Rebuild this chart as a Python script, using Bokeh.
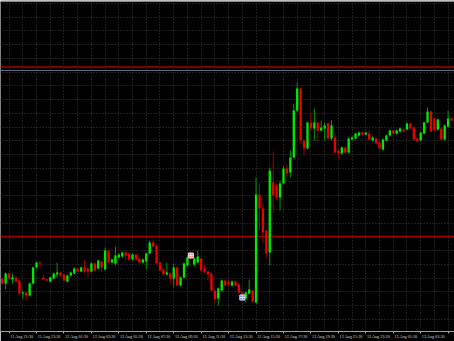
import numpy as np
from bokeh.plotting import figure
from bokeh.models import ColumnDataSource, FixedTicker, Range1d, Span, LinearAxis
from bokeh.embed import file_html
from bokeh.resources import INLINE

# M15 bars, first bar = 11 Aug 21:00
opens = [63, 58, 68, 62, 64, 61, 48, 49, 46, 58, 74, 79, 64, 62, 60, 63, 67, 69, 67, 60,
         66, 68, 73, 70, 74, 73, 70, 78, 73, 80, 72, 91, 79, 78, 84, 85, 89, 88, 82, 87,
         83, 79, 80, 88, 99, 96, 79, 72, 67, 68, 63, 74, 56, 64, 76, 86, 77, 79, 83, 73,
         70, 68, 51, 43, 51, 61, 60, 56, 60, 57, 49, 43, 48, 51, 39, 147, 133, 111, 89, 159,
         156, 144, 158, 173, 169, 184, 231, 253, 201, 193, 219, 213, 219, 211, 213, 218, 203, 204, 191, 188,
         194, 189, 202, 203, 206, 209, 207, 208, 201, 203, 199, 192, 201, 206, 211, 208, 210, 212, 212, 218,
         214, 203, 201, 208, 219, 230, 223, 212, 213, 202, 215, 223]
highs = [64, 69, 69, 68, 65, 62, 51, 50, 59, 75, 80, 80, 67, 63, 65, 69, 79, 70, 68, 67,
         70, 74, 74, 75, 81, 74, 79, 79, 82, 81, 94, 92, 83, 95, 88, 90, 91, 89, 88, 88,
         84, 83, 89, 101, 102, 97, 80, 73, 79, 69, 78, 75, 65, 79, 85, 87, 84, 91, 84, 77,
         71, 69, 52, 54, 62, 62, 61, 61, 61, 58, 50, 50, 62, 52, 164, 158, 138, 112, 174, 190,
         158, 161, 175, 177, 191, 238, 259, 254, 202, 220, 229, 233, 220, 221, 219, 219, 221, 208, 192, 195,
         195, 204, 206, 209, 210, 210, 210, 211, 205, 204, 200, 203, 207, 212, 212, 212, 214, 213, 219, 219,
         215, 204, 210, 220, 234, 231, 224, 223, 214, 217, 231, 224]
lows = [57, 52, 62, 58, 59, 47, 43, 41, 45, 57, 73, 74, 61, 60, 59, 62, 64, 65, 60, 59,
        65, 67, 69, 69, 68, 64, 69, 70, 72, 70, 71, 78, 78, 76, 83, 84, 81, 81, 81, 81,
        78, 78, 72, 87, 94, 77, 70, 66, 66, 58, 54, 55, 55, 63, 75, 82, 75, 78, 70, 68,
        61, 50, 38, 36, 50, 55, 56, 55, 55, 48, 43, 39, 47, 39, 38, 111, 98, 83, 76, 128,
        141, 131, 157, 164, 164, 183, 230, 199, 186, 192, 211, 201, 199, 210, 201, 202, 201, 188, 183, 187,
        188, 188, 201, 202, 205, 206, 206, 201, 200, 197, 192, 191, 200, 205, 207, 207, 209, 209, 211, 212,
        201, 199, 200, 207, 218, 209, 210, 211, 201, 201, 214, 220]
closes = [58, 68, 63, 64, 60, 48, 49, 46, 58, 74, 79, 78, 62, 61, 64, 68, 69, 66, 61, 66,
          69, 73, 70, 74, 70, 70, 78, 71, 81, 74, 91, 79, 82, 86, 87, 89, 86, 82, 87, 82,
          79, 82, 88, 99, 95, 78, 71, 67, 69, 63, 74, 56, 64, 78, 84, 83, 83, 85, 71, 69,
          67, 51, 42, 53, 61, 56, 57, 60, 56, 49, 44, 49, 52, 40, 147, 133, 109, 88, 171, 146,
          144, 158, 173, 168, 184, 231, 253, 201, 193, 219, 213, 219, 211, 214, 216, 203, 216, 189, 188, 194,
          189, 203, 204, 208, 209, 207, 209, 202, 204, 198, 193, 202, 206, 211, 208, 211, 213, 210, 218, 213,
          202, 200, 209, 219, 230, 210, 211, 222, 202, 216, 223, 221]

tick_bars = [2, 10, 18, 26, 34, 42, 50, 58, 66, 74, 82, 90, 98, 106, 114, 122, 130]
tick_labels = ["11 Aug 21:30", "11 Aug 23:30", "12 Aug 01:30", "12 Aug 03:30",
               "12 Aug 05:30", "12 Aug 07:30", "12 Aug 09:30", "12 Aug 11:30",
               "12 Aug 13:30", "12 Aug 15:30", "12 Aug 17:30", "12 Aug 19:30",
               "12 Aug 21:30", "12 Aug 23:30", "13 Aug 01:30", "13 Aug 03:30",
               "13 Aug 05:30"]

level_prices = [274.5, 105]   # red horizontal levels
ask_price = 271               # grey price line
mark_bars = [55, 70]
mark_prices = [86, 44]
mark_fill = ["#e88a8a", "#5d86c8"]
mark_line = ["#ffd6d6", "#d6e2ff"]

UP_BODY, DN_BODY = "#00ea00", "#ea0000"
UP_WICK, DN_WICK = "#009a00", "#9a0000"

n = len(opens)
xs = list(range(n))
up = [c >= o for o, c in zip(opens, closes)]
src = ColumnDataSource(dict(
    x=xs, high=highs, low=lows,
    top=[max(o, c) for o, c in zip(opens, closes)],
    bottom=[min(o, c) for o, c in zip(opens, closes)],
    body=[UP_BODY if u else DN_BODY for u in up],
    wick=[UP_WICK if u else DN_WICK for u in up],
))

p = figure(width=454, height=341, output_backend="svg", toolbar_location=None,
           x_range=Range1d(-0.5, 131.86), y_range=Range1d(10, 340),
           y_axis_location=None, x_axis_location="below",
           background_fill_color="#000000", border_fill_color="#000000",
           min_border_left=0, min_border_right=0, min_border_top=1, min_border_bottom=10)
p.outline_line_color = None

# grid
p.xgrid.ticker = FixedTicker(ticks=list(range(2, n + 1, 4)))
p.ygrid.ticker = FixedTicker(ticks=list(np.arange(338, 9, -13.73)))
for g in (p.xgrid[0], p.ygrid[0]):
    g.grid_line_color = "#3a3a3a"
    g.grid_line_dash = "1 2"
    g.grid_line_width = 1

# levels
for lp in level_prices:
    p.add_layout(Span(location=lp, dimension="width", line_color="#a30000",
                      line_width=1.5, level="underlay"))
p.add_layout(Span(location=ask_price, dimension="width", line_color="#66707c",
                  line_width=1, level="underlay"))

# candles
p.segment(x0="x", y0="low", x1="x", y1="high", line_color="wick", line_width=1, source=src)
p.vbar(x="x", width=0.68, top="top", bottom="bottom", fill_color="body",
       line_color=None, source=src)

# trade marks
p.scatter(x=mark_bars, y=mark_prices, marker="square_cross", size=5,
          fill_color=mark_fill, line_color=mark_line, line_width=1)

# bottom time axis
ax = p.xaxis[0]
centers = [b + 3.7 for b in tick_bars]
ax.ticker = FixedTicker(ticks=centers, minor_ticks=tick_bars)
ax.major_label_overrides = {c: lab for c, lab in zip(centers, tick_labels)}
ax.axis_line_color = "#a0a0a0"
ax.major_tick_line_color = None
ax.major_tick_out = 0
ax.major_tick_in = 0
ax.minor_tick_line_color = "#a0a0a0"
ax.minor_tick_out = 2
ax.minor_tick_in = 0
ax.major_label_standoff = 0
ax.major_label_text_color = "#d8d8d8"
ax.major_label_text_font = "Liberation Sans Narrow"
ax.major_label_text_font_size = "4.2px"

# top border line
top_axis = LinearAxis(ticker=FixedTicker(ticks=[]), axis_line_color="#8c8c8c",
                      major_tick_line_color=None, minor_tick_line_color=None,
                      major_tick_out=0, major_tick_in=0, minor_tick_out=0, minor_tick_in=0,
                      major_label_standoff=0, major_label_text_font_size="0px")
p.add_layout(top_axis, "above")

open("out.html", "w").write(file_html(p, INLINE))
